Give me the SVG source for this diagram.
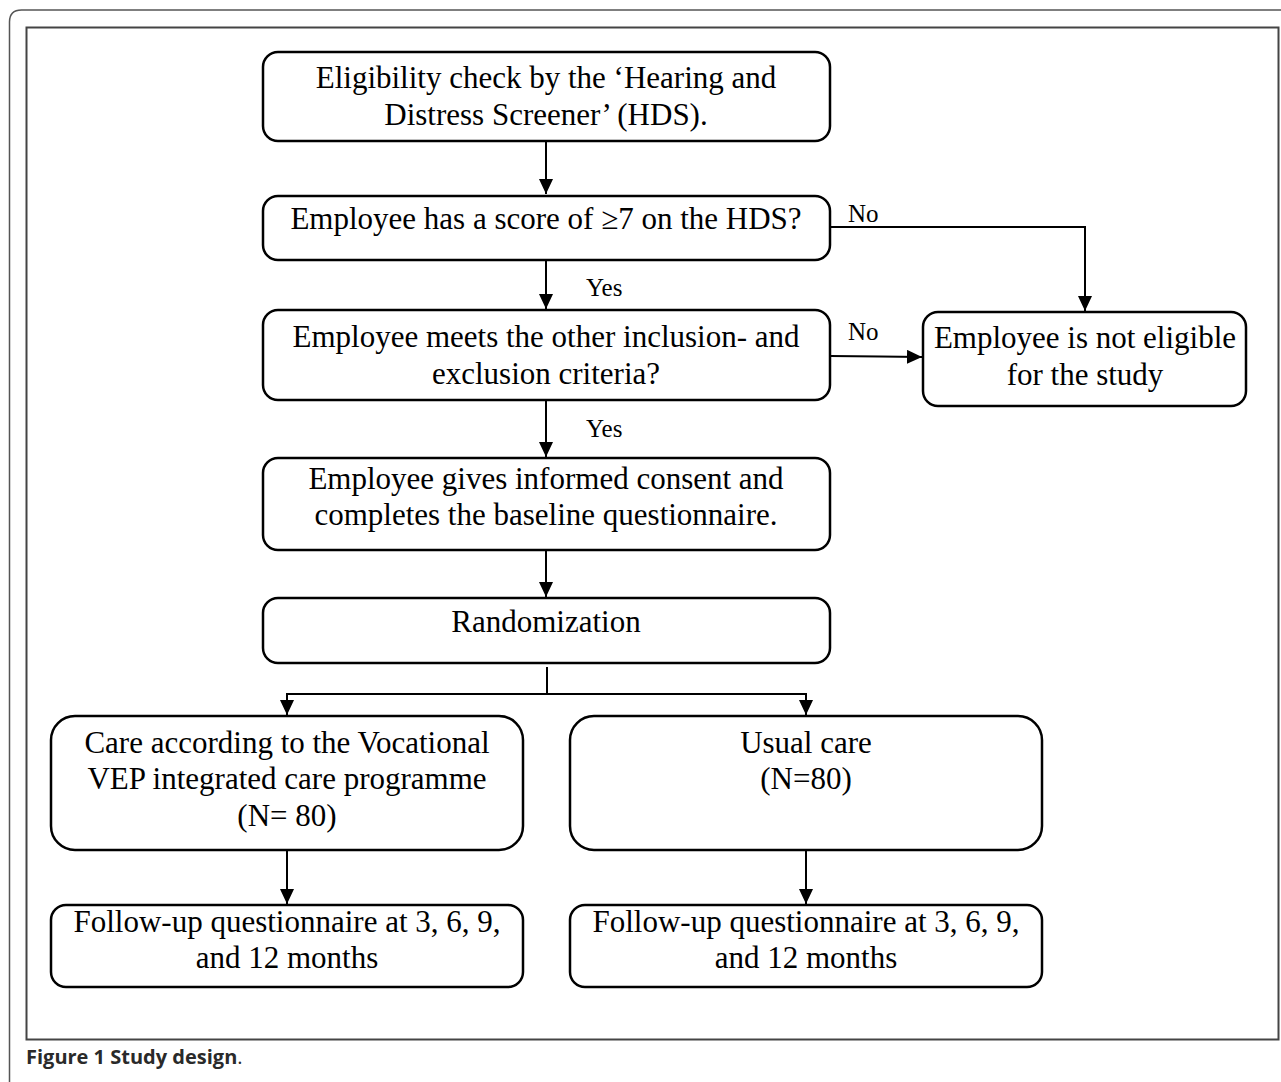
<svg xmlns="http://www.w3.org/2000/svg" width="1281" height="1082" viewBox="0 0 1281 1082">
<defs>
<marker id="ah" markerWidth="15" markerHeight="14" refX="15" refY="7" orient="auto" markerUnits="userSpaceOnUse" viewBox="0 0 15 14">
<path d="M0,0 L15,7 L0,14 z" fill="#000"/>
</marker>
<style>
.box{fill:#fff;stroke:#000;stroke-width:2.5}
.t{font-family:"Liberation Serif","Times New Roman",serif;font-size:31px;fill:#000;text-anchor:middle}
.s{font-family:"Liberation Serif","Times New Roman",serif;font-size:25px;fill:#000}
.c{fill:none;stroke:#000;stroke-width:2}
.a{fill:none;stroke:#000;stroke-width:2;marker-end:url(#ah)}
</style>
</defs>
<rect width="1281" height="1082" fill="#fff"/>
<path d="M9.5,1082 L9.5,22 Q9.5,10 21.5,10 L1281,10" fill="none" stroke="#555" stroke-width="1.5"/>
<rect x="26.5" y="27.5" width="1252" height="1012" fill="none" stroke="#444" stroke-width="2"/>
<text x="26" y="1064" font-family="'Open Sans','DejaVu Sans',sans-serif" font-size="20" fill="#2a2a2a"><tspan font-weight="bold">Figure 1 Study design</tspan>.</text>

<g id="connectors">
<line class="a" x1="546" y1="141" x2="546" y2="194"/>
<line class="a" x1="546" y1="260" x2="546" y2="309"/>
<line class="a" x1="546" y1="400" x2="546" y2="457"/>
<line class="a" x1="546" y1="550" x2="546" y2="597"/>
<polyline class="a" points="830,227 1085,227 1085,311"/>
<polyline class="a" points="830,356 880,356.5 922,357"/>
<line class="c" x1="547" y1="667" x2="547" y2="694"/>
<line class="c" x1="287" y1="694" x2="807" y2="694"/>
<line class="a" x1="287" y1="693" x2="287" y2="715"/>
<line class="a" x1="806" y1="693" x2="806" y2="715"/>
<line class="a" x1="287" y1="850" x2="287" y2="904"/>
<line class="a" x1="806" y1="850" x2="806" y2="904"/>
<text class="s" x="848" y="222">No</text>
<text class="s" x="848" y="340">No</text>
<text class="s" x="586" y="296">Yes</text>
<text class="s" x="586" y="437">Yes</text>
</g>

<g id="n1"><rect class="box" x="263" y="52" width="567" height="89" rx="15"/>
<text class="t" x="546" y="88">Eligibility check by the ‘Hearing and</text>
<text class="t" x="546" y="125">Distress Screener’ (HDS).</text></g>

<g id="n2"><rect class="box" x="263" y="196" width="567" height="64" rx="15"/>
<text class="t" x="546" y="229">Employee has a score of ≥7 on the HDS?</text></g>

<g id="n3"><rect class="box" x="263" y="310" width="567" height="90" rx="15"/>
<text class="t" x="546" y="347">Employee meets the other inclusion- and</text>
<text class="t" x="546" y="384">exclusion criteria?</text></g>

<g id="n4"><rect class="box" x="923" y="312" width="323" height="94" rx="15"/>
<text class="t" x="1085" y="348">Employee is not eligible</text>
<text class="t" x="1085" y="385">for the study</text></g>

<g id="n5"><rect class="box" x="263" y="458" width="567" height="92" rx="15"/>
<text class="t" x="546" y="489">Employee gives informed consent and</text>
<text class="t" x="546" y="525">completes the baseline questionnaire.</text></g>

<g id="n6"><rect class="box" x="263" y="598" width="567" height="65" rx="15"/>
<text class="t" x="546" y="632">Randomization</text></g>

<g id="n7"><rect class="box" x="51" y="716" width="472" height="134" rx="24"/>
<text class="t" x="287" y="753">Care according to the Vocational</text>
<text class="t" x="287" y="789">VEP integrated care programme</text>
<text class="t" x="287" y="826">(N= 80)</text></g>

<g id="n8"><rect class="box" x="570" y="716" width="472" height="134" rx="24"/>
<text class="t" x="806" y="753">Usual care</text>
<text class="t" x="806" y="789">(N=80)</text></g>

<g id="n9"><rect class="box" x="51" y="905" width="472" height="82" rx="15"/>
<text class="t" x="287" y="932">Follow-up questionnaire at 3, 6, 9,</text>
<text class="t" x="287" y="968">and 12 months</text></g>

<g id="n10"><rect class="box" x="570" y="905" width="472" height="82" rx="15"/>
<text class="t" x="806" y="932">Follow-up questionnaire at 3, 6, 9,</text>
<text class="t" x="806" y="968">and 12 months</text></g>
</svg>
